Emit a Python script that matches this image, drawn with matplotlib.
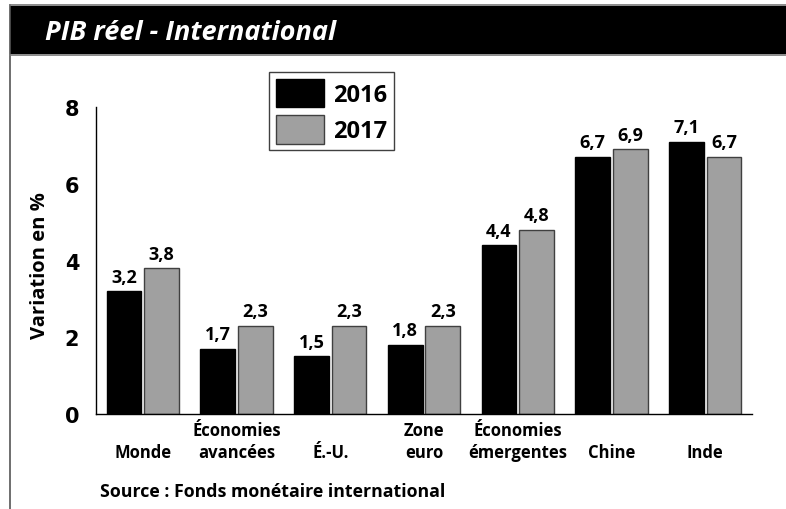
import matplotlib
matplotlib.use("Agg")
import matplotlib.pyplot as plt
from matplotlib.patches import Rectangle
from matplotlib.lines import Line2D
import numpy as np

categories = ["Monde", "Économies\navancées", "É.-U.", "Zone\neuro",
              "Économies\némergentes", "Chine", "Inde"]
values_2016 = [3.2, 1.7, 1.5, 1.8, 4.4, 6.7, 7.1]
values_2017 = [3.8, 2.3, 2.3, 2.3, 4.8, 6.9, 6.7]
series_labels = ["2016", "2017"]
y_ticks = [0, 2, 4, 6, 8]

plt.rcParams['font.family'] = ['Open Sans', 'DejaVu Sans']

W, H = 786, 510
fig = plt.figure(figsize=(W / 100, H / 100), dpi=100)

def fx(px):
    return px / W

def fy(py):
    return 1 - py / H

# frame and header
fig.add_artist(Line2D([fx(10), fx(10)], [fy(6), 0], color="#555555", lw=1.2,
                      transform=fig.transFigure))
fig.add_artist(Line2D([fx(10), 1], [fy(6), fy(6)], color="#777777", lw=1.2,
                      transform=fig.transFigure))
fig.add_artist(Rectangle((fx(10), fy(55)), 1 - fx(10), fy(7) - fy(55),
                         facecolor="black", edgecolor="none",
                         transform=fig.transFigure))
fig.add_artist(Line2D([fx(10), 1], [fy(56), fy(56)], color="#777777", lw=1.2,
                      transform=fig.transFigure))
fig.text(fx(45), fy(33), "PIB réel - International", color="white",
         fontsize=19.5, fontweight="bold", style="italic", va="center", ha="left")

ax = fig.add_axes([fx(96), fy(415), fx(752) - fx(96), fy(108) - fy(415)])
x = np.arange(len(categories))
w = 0.37
b1 = ax.bar(x - 0.2, values_2016, w, color="black", edgecolor="black", lw=1,
            label=series_labels[0])
b2 = ax.bar(x + 0.2, values_2017, w, color="#a0a0a0", edgecolor="#404040", lw=1,
            label=series_labels[1])

for bars, vals in ((b1, values_2016), (b2, values_2017)):
    for r, v in zip(bars, vals):
        ax.annotate(f"{v:.1f}".replace(".", ","),
                    (r.get_x() + r.get_width() / 2, v),
                    xytext=(0, 4), textcoords="offset points",
                    ha="center", va="bottom", fontsize=13, fontweight="bold")

ax.set_xlim(-0.5, 6.5)
ax.set_ylim(0, 8)
ax.set_yticks(y_ticks)
ax.set_yticklabels([str(t) for t in y_ticks], fontsize=15, fontweight="bold",
                   family="DejaVu Sans")
ax.set_xticks(x)
ax.set_xticklabels(categories, fontsize=12, fontweight="bold",
                   va="bottom", linespacing=1.3)
ax.tick_params(axis="x", length=0, pad=34)
ax.tick_params(axis="y", length=0, pad=12)
for s in ("top", "right"):
    ax.spines[s].set_visible(False)
ax.spines["left"].set_linewidth(1)
ax.spines["bottom"].set_linewidth(1)

fig.text(fx(40), fy(266), "Variation en %", rotation=90, fontsize=14.5,
         fontweight="bold", ha="center", va="center")

fig.text(fx(100), fy(492), "Source : Fonds monétaire international",
         fontsize=12.8, fontweight="bold", ha="left", va="center")

leg = fig.legend(handles=[b1, b2], labels=series_labels,
                 loc="upper left", bbox_to_anchor=(fx(269), fy(73)),
                 borderaxespad=0,
                 fontsize=17, handlelength=2.05, handleheight=1.5,
                 labelspacing=0.32, borderpad=0.28, handletextpad=0.4,
                 fancybox=False, framealpha=1, edgecolor="#404040")
leg.get_frame().set_linewidth(1)
for t in leg.get_texts():
    t.set_fontweight("bold")

fig.savefig("out.png", dpi=100)
